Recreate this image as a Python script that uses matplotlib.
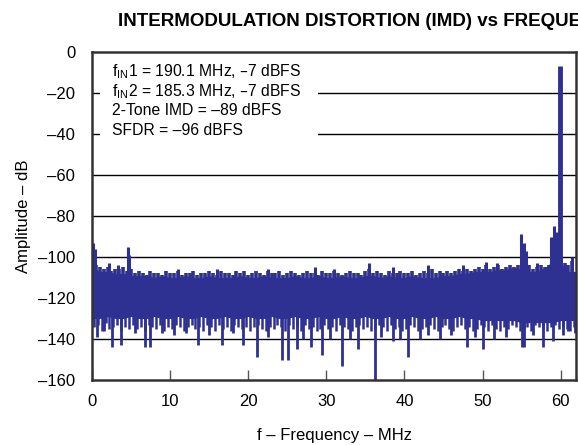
import numpy as np
import matplotlib
matplotlib.use("Agg")
import matplotlib.pyplot as plt
from matplotlib.patches import Rectangle

plt.rcParams['font.family'] = ['Liberation Sans', 'DejaVu Sans']
plt.rcParams['mathtext.default'] = 'regular'

# solid part of the noise floor, read at every MHz (0..62)
freq = np.arange(0, 63)
upper = [-105, -107, -107, -108, -108, -109, -109, -109, -110, -109,
         -110, -110, -109, -110, -110, -109, -110, -110, -110, -109,
         -110, -110, -109, -110, -110, -110, -109, -110, -110, -109,
         -110, -110, -109, -110, -110, -109, -109, -110, -109, -110,
         -110, -109, -110, -110, -110, -109, -109, -108, -108, -107,
         -107, -107, -106, -106, -105, -106, -107, -107, -105, -102,
         -103, -107, -107]
lower = [-130, -130, -129, -130, -130, -129, -130, -130, -129, -130,
         -130, -129, -130, -130, -129, -130, -130, -129, -130, -130,
         -129, -130, -130, -129, -130, -130, -129, -130, -130, -129,
         -130, -130, -129, -130, -130, -129, -130, -130, -129, -130,
         -130, -129, -130, -130, -129, -130, -130, -129, -130, -130,
         -131, -131, -131, -131, -131, -132, -132, -132, -132, -132,
         -131, -131, -131]

# fine texture of the upper edge, read every 0.5 MHz (0.5..61.5)
edge_up_f = np.arange(0.5, 61.51, 0.5)
edge_up_db = [-104, -105, -106, -105, -107, -106, -106, -105, -107, -106,
              -108, -107, -108, -109, -107, -108, -108, -109, -107, -108,
              -108, -107, -109, -108, -108, -107, -109, -108, -108, -107,
              -108, -109, -107, -108, -108, -109, -107, -108, -107, -109,
              -108, -107, -108, -109, -107, -108, -108, -107, -109, -108,
              -107, -108, -109, -108, -107, -108, -108, -109, -107, -108,
              -108, -107, -108, -109, -108, -107, -108, -108, -109, -107,
              -106, -108, -107, -108, -109, -107, -108, -108, -107, -108,
              -108, -107, -109, -108, -107, -108, -106, -108, -107, -108,
              -107, -108, -107, -106, -107, -106, -107, -106, -105, -106,
              -104, -106, -105, -104, -106, -105, -104, -105, -104, -103,
              -100, -104, -106, -105, -104, -105, -104, -103, -98, -101,
              -103, -104, -102]

# fine texture of the lower edge, read every 0.5 MHz (0.25..61.75)
edge_dn_f = np.arange(0.25, 61.76, 0.5)
edge_dn_db = [-134, -133, -136, -132, -135, -134, -133, -136, -134, -135,
              -133, -135, -134, -136, -133, -134, -135, -133, -136, -134,
              -135, -133, -134, -136, -134, -133, -135, -134, -136, -133,
              -134, -136, -133, -135, -134, -136, -133, -134, -135, -134,
              -136, -134, -133, -135, -136, -134, -135, -133, -134, -136,
              -133, -135, -134, -136, -133, -135, -134, -136, -135, -133,
              -135, -134, -136, -133, -134, -135, -136, -134, -133, -135,
              -134, -136, -135, -133, -134, -136, -133, -135, -134, -136,
              -135, -133, -134, -136, -135, -134, -133, -135, -136, -134,
              -133, -135, -136, -134, -133, -135, -134, -136, -135, -133,
              -134, -136, -133, -135, -136, -134, -135, -133, -134, -136,
              -135, -134, -136, -133, -134, -135, -136, -134, -133, -135,
              -134, -135, -136, -134]

# upward spurs (MHz, dB)
up_f = [0.1, 0.4, 2.2, 3.4, 4.6, 4.8, 11.0, 16.0, 22.5, 28.5, 31.0, 35.5,
        38.5, 43.0, 47.5, 50.5, 51.8, 54.9, 55.3, 55.6, 57.0, 58.8, 59.2,
        59.5, 61.5]
up_db = [-93, -96, -103, -104, -95, -99, -106, -106, -106, -105, -106, -103,
         -105, -104, -104, -102.5, -103, -89, -93, -97, -103, -90, -85,
         -88, -100]

# deep downward spikes (MHz, dB)
dn_f = [0.6, 1.5, 2.6, 3.7, 5.5, 6.8, 7.4, 9.0, 10.5, 12.0, 13.6, 15.0,
        16.6, 18.0, 19.3, 21.1, 22.5, 24.3, 25.1, 26.2, 27.0, 28.1, 29.4,
        30.5, 32.0, 33.0, 34.1, 36.2, 37.0, 38.5, 39.5, 40.4, 42.0, 43.0,
        44.5, 46.0, 48.0, 49.0, 50.0, 51.5, 53.0, 55.0, 55.3, 56.5, 57.7,
        59.0, 60.3, 61.0, 61.8]
dn_db = [-139, -136, -144, -143, -137, -144, -144, -137, -138, -137, -143,
         -138, -143, -137, -143, -149, -139, -150, -150, -145, -140, -144,
         -148, -140, -153, -140, -145, -160, -139, -141, -140, -149, -140,
         -138, -140, -138, -144, -139, -145, -140, -139, -144, -144, -138,
         -144, -141, -138, -136, -137]

# fundamental tones (alias of 190.1 / 185.3 MHz)
tone_f = [59.9]
tone_db = [-7]

blue = '#2e3192'

fig = plt.figure(figsize=(5.78, 4.45), dpi=100)
ax = fig.add_axes([0.159, 0.146, 0.838, 0.737])

for yv in [-20, -40, -60, -80, -100, -120, -140]:
    ax.axhline(yv, color='k', lw=1, zorder=1)

ax.fill_between(freq, lower, upper, color=blue, lw=0, zorder=2)
ax.vlines(edge_up_f, -115, edge_up_db, color=blue, lw=2.6, zorder=2)
ax.vlines(edge_dn_f, edge_dn_db, -125, color=blue, lw=1.8, zorder=2)
ax.vlines(up_f, -115, up_db, color=blue, lw=2.2, zorder=2)
ax.vlines(dn_f, dn_db, -125, color=blue, lw=2.0, zorder=2)
ax.vlines(tone_f, -115, tone_db, color=blue, lw=3.5, zorder=2)

# white box behind annotations
ax.add_patch(Rectangle((1.0, -46), 28.0, 43, facecolor='white',
                       edgecolor='none', zorder=3))
notes = [r'f$_{IN}$1 = 190.1 MHz, –7 dBFS',
         r'f$_{IN}$2 = 185.3 MHz, –7 dBFS',
         '2-Tone IMD = –89 dBFS',
         'SFDR = –96 dBFS']
for i, s in enumerate(notes):
    ax.text(2.6, -9.5 - 9.6 * i, s, fontsize=11.3, va='center', ha='left',
            family='Liberation Sans', zorder=4)

ax.set_xlim(0, 62)
ax.set_ylim(-160, 0)
ax.set_xticks(range(0, 61, 10))
ax.set_yticks(range(-160, 1, 20))
ax.set_yticklabels(['–160', '–140', '–120', '–100', '–80', '–60', '–40',
                    '–20', '0'])
ax.tick_params(axis='x', direction='in', length=7, width=1, labelsize=12,
               pad=10, color='#555555')
ax.tick_params(axis='y', length=0, labelsize=12, pad=12)
for sp in ax.spines.values():
    sp.set_linewidth(1.8)
    sp.set_color('#333333')
    sp.set_zorder(5)

ax.set_xlabel('f – Frequency – MHz', fontsize=12, labelpad=14)
ax.set_ylabel('Amplitude – dB', fontsize=12, labelpad=5)

fig.text(0.204, 0.951, 'INTERMODULATION DISTORTION (IMD) vs FREQUENCY',
         fontsize=13.5, fontweight='bold', va='center', ha='left')

fig.savefig('out.png', dpi=100)
